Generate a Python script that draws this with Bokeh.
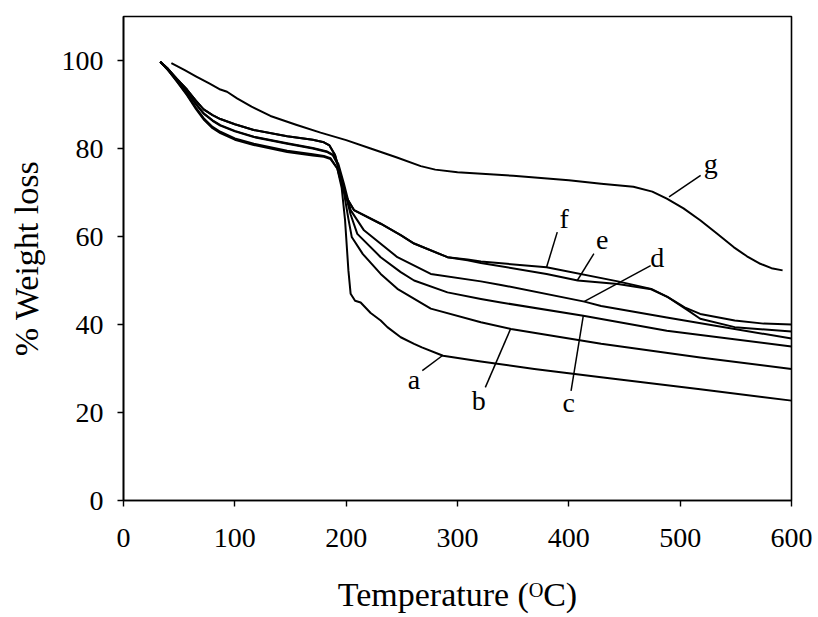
from bokeh.plotting import figure
from bokeh.models import Label, FixedTicker, ColumnDataSource
from bokeh.embed import file_html
from bokeh.resources import INLINE

# Thermogravimetric curves: temperature (deg C) vs. % weight
a_t = [33, 40, 48, 57, 65, 72, 80, 87, 100, 117, 147, 170, 180, 186, 192, 196, 199, 202, 204, 208, 213, 222, 231, 237, 249, 261, 268, 287, 321, 369, 429, 518, 600]
a_w = [99.7, 97.8, 95.2, 92.1, 89.0, 86.6, 84.6, 83.5, 82.0, 80.8, 79.2, 78.4, 78.1, 77.6, 75.5, 71.0, 63.7, 52.3, 47.0, 45.4, 45.0, 42.6, 40.9, 39.4, 37.1, 35.6, 34.8, 32.9, 31.6, 29.9, 28.0, 25.3, 22.7]

b_t = [33, 40, 48, 57, 65, 72, 80, 87, 100, 117, 147, 170, 180, 186, 192, 198, 202, 205, 215, 231, 246, 276, 321, 348, 429, 518, 600]
b_w = [99.7, 97.8, 95.3, 92.3, 89.3, 86.9, 84.9, 83.8, 82.3, 81.1, 79.5, 78.7, 78.3, 77.8, 75.5, 70.0, 64.0, 59.9, 56.0, 51.5, 48.1, 43.6, 40.5, 39.0, 35.6, 32.5, 29.9]

c_t = [33, 40, 48, 57, 65, 72, 80, 87, 100, 117, 147, 170, 183, 188, 193, 198, 204, 210, 231, 249, 261, 291, 321, 339, 413, 488, 600]
c_w = [99.7, 98.0, 95.5, 92.8, 90.1, 87.9, 86.3, 85.2, 83.9, 82.6, 81.1, 80.0, 79.2, 78.5, 76.0, 71.0, 65.0, 60.6, 55.3, 51.9, 50.0, 47.3, 45.8, 45.0, 42.0, 38.6, 35.0]

d_t = [33, 40, 48, 57, 65, 72, 80, 87, 100, 117, 147, 170, 183, 188, 193, 198, 204, 216, 246, 276, 321, 339, 414, 429, 488, 600]
d_w = [99.7, 98.0, 95.6, 92.9, 90.2, 88.0, 86.4, 85.3, 84.0, 82.7, 81.2, 80.1, 79.3, 78.6, 76.5, 72.0, 66.0, 61.4, 55.3, 51.5, 49.8, 49.0, 45.2, 44.2, 41.6, 36.8]

e_t = [33, 40, 48, 57, 65, 72, 80, 87, 100, 117, 147, 170, 180, 185, 190, 195, 200, 207, 231, 249, 261, 291, 309, 321, 380, 408, 444, 474, 489, 507, 518, 549, 600]
e_w = [99.7, 98.1, 95.8, 93.4, 90.9, 88.9, 87.6, 86.7, 85.5, 84.2, 82.8, 82.0, 81.4, 80.7, 78.5, 74.0, 69.0, 66.0, 62.9, 60.3, 58.4, 55.3, 54.6, 54.0, 51.5, 50.0, 49.2, 48.0, 46.2, 43.2, 41.3, 39.4, 38.4]

f_t = [33, 40, 48, 57, 65, 72, 80, 87, 100, 117, 147, 170, 180, 185, 190, 195, 200, 207, 231, 249, 261, 291, 309, 321, 380, 444, 474, 489, 504, 518, 549, 575, 600]
f_w = [99.7, 98.1, 95.8, 93.4, 90.9, 88.9, 87.6, 86.7, 85.5, 84.2, 82.8, 82.0, 81.4, 80.7, 78.5, 74.0, 69.0, 66.0, 62.9, 60.3, 58.4, 55.3, 54.8, 54.3, 53.0, 49.8, 48.1, 46.2, 43.9, 42.4, 40.9, 40.2, 40.0]

g_t = [43, 55, 65, 77, 87, 93, 102, 115, 132, 155, 177, 200, 222, 245, 267, 280, 300, 350, 400, 429, 458, 475, 488, 503, 518, 533, 548, 560, 572, 582, 592]
g_w = [99.4, 97.8, 96.4, 94.8, 93.4, 92.9, 91.4, 89.5, 87.4, 85.4, 83.6, 81.9, 80.0, 78.0, 76.0, 75.2, 74.6, 73.8, 72.8, 72.0, 71.3, 70.2, 68.6, 66.4, 63.7, 60.7, 57.6, 55.5, 53.8, 52.8, 52.3]

# Curve tags: label position and leader line (label end -> curve end)
tag_names = ["a", "b", "c", "d", "e", "f", "g"]
tag_x = [260.8, 319.0, 400.0, 479.5, 430.0, 395.8, 527.4]
tag_y = [27.6, 22.7, 22.3, 55.3, 59.1, 64.0, 76.6]
lead_x0 = [268.4, 325.0, 402.0, 473.5, 422.5, 389.6, 518.4]
lead_y0 = [29.5, 25.7, 24.9, 53.4, 56.1, 61.0, 73.9]
lead_x1 = [286.3, 347.7, 413.0, 413.6, 407.6, 380.0, 490.0]
lead_y1 = [32.9, 39.0, 42.0, 45.2, 50.0, 53.0, 69.0]

x_ticks = [0, 100, 200, 300, 400, 500, 600]
y_ticks = [0, 20, 40, 60, 80, 100]

FONT = "Liberation Serif"

p = figure(width=818, height=617, x_range=(0, 600), y_range=(0, 110),
           output_backend="svg", toolbar_location=None,
           min_border_left=123, min_border_right=27,
           min_border_top=16, min_border_bottom=117)

p.background_fill_color = "white"
p.border_fill_color = "white"
p.outline_line_color = "black"
p.outline_line_width = 1.6
p.xgrid.visible = False
p.ygrid.visible = False

for ax, ticks in ((p.xaxis, x_ticks), (p.yaxis, y_ticks)):
    ax.ticker = FixedTicker(ticks=ticks)
    ax.axis_line_color = "black"
    ax.axis_line_width = 1.6
    ax.major_tick_line_color = "black"
    ax.major_tick_line_width = 1.4
    ax.major_tick_out = 6
    ax.major_tick_in = 0
    ax.minor_tick_line_color = None
    ax.major_label_text_font = FONT
    ax.major_label_text_font_size = "28px"
    ax.major_label_text_color = "black"
    ax.axis_label_text_font = FONT
    ax.axis_label_text_font_size = "34px"
    ax.axis_label_text_font_style = "normal"
    ax.axis_label_text_color = "black"

p.xaxis.major_label_standoff = 22
p.yaxis.major_label_standoff = 14
p.xaxis.axis_label = "Temperature (\u1d3cC)"
p.xaxis.axis_label_standoff = 26
p.yaxis.axis_label = "% Weight loss"
p.yaxis.axis_label_standoff = 14

series = [(a_t, a_w), (b_t, b_w), (c_t, c_w), (d_t, d_w), (e_t, e_w), (f_t, f_w), (g_t, g_w)]
for t, w in series:
    p.line(t, w, line_color="black", line_width=2.0, line_join="round")

leaders = ColumnDataSource(dict(x0=lead_x0, y0=lead_y0, x1=lead_x1, y1=lead_y1))
p.segment(x0="x0", y0="y0", x1="x1", y1="y1", source=leaders,
          line_color="black", line_width=1.5)

for name, tx, ty in zip(tag_names, tag_x, tag_y):
    p.add_layout(Label(x=tx, y=ty, text=name, text_font=FONT,
                       text_font_size="28px", text_color="black",
                       text_align="center", text_baseline="middle"))

open("out.html", "w").write(file_html(p, INLINE))
